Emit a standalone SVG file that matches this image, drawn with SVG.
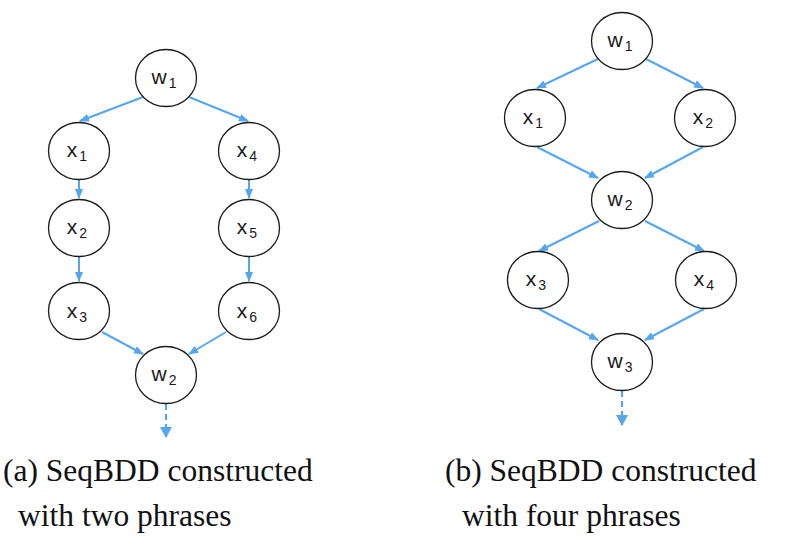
<svg xmlns="http://www.w3.org/2000/svg" width="794" height="536" viewBox="0 0 794 536">
<style>
.node ellipse{fill:#fff;stroke:#1a1a1a;stroke-width:1.3}
.node text{font-family:"Liberation Sans",Arial,sans-serif;font-size:21px;fill:#1a1a1a;text-anchor:middle}
.sub{font-size:14px}
.edge{stroke:#55a6ee;stroke-width:2;fill:none;marker-end:url(#ah)}
.dash{stroke:#55a6ee;stroke-width:2.2;fill:none;stroke-dasharray:6 4;marker-end:url(#ahb)}
.cap{font-family:"Liberation Serif","Times New Roman",serif;font-size:31.5px;fill:#111}
</style>
<defs>
<marker id="ah" markerUnits="userSpaceOnUse" markerWidth="10" markerHeight="10" viewBox="0 0 10 10" refX="9" refY="5" orient="auto">
<path d="M0,1 L10,5 L0,9 Z" fill="#55a6ee"/>
</marker>
<marker id="ahb" markerUnits="userSpaceOnUse" markerWidth="12" markerHeight="13" viewBox="0 0 12 13" refX="10" refY="6.5" orient="auto">
<path d="M0,0.5 L11,6.5 L0,12.5 Z" fill="#55a6ee"/>
</marker>
</defs>
<rect width="794" height="536" fill="#fff"/>
<g id="connectors">
<line class="edge" x1="143" y1="97" x2="80" y2="121"/>
<line class="edge" x1="189" y1="97" x2="248" y2="121"/>
<line class="edge" x1="79" y1="180" x2="79" y2="198"/>
<line class="edge" x1="79" y1="257" x2="79" y2="281"/>
<line class="edge" x1="249" y1="180" x2="249" y2="198"/>
<line class="edge" x1="249" y1="257" x2="249" y2="281"/>
<line class="edge" x1="102" y1="332" x2="143" y2="354"/>
<line class="edge" x1="226" y1="332" x2="189" y2="354"/>
<line class="dash" x1="166" y1="404" x2="166" y2="437"/>
<line class="edge" x1="600" y1="58" x2="537" y2="88"/>
<line class="edge" x1="644" y1="58" x2="703" y2="88"/>
<line class="edge" x1="537" y1="147" x2="598" y2="178"/>
<line class="edge" x1="703" y1="147" x2="645" y2="178"/>
<line class="edge" x1="599" y1="221" x2="539" y2="251"/>
<line class="edge" x1="645" y1="221" x2="704" y2="251"/>
<line class="edge" x1="539" y1="309" x2="598" y2="340"/>
<line class="edge" x1="704" y1="309" x2="645" y2="340"/>
<line class="dash" x1="622" y1="391" x2="622" y2="425"/>
</g>
<g id="a-w1" class="node"><ellipse cx="166" cy="78" rx="30.5" ry="28.5"/><text x="164" y="84">w<tspan class="sub" dx="2" dy="4">1</tspan></text></g>
<g id="a-x1" class="node"><ellipse cx="79" cy="151" rx="30.5" ry="28.5"/><text x="77" y="157">x<tspan class="sub" dx="2" dy="4">1</tspan></text></g>
<g id="a-x2" class="node"><ellipse cx="79" cy="228" rx="30.5" ry="28.5"/><text x="77" y="234">x<tspan class="sub" dx="2" dy="4">2</tspan></text></g>
<g id="a-x3" class="node"><ellipse cx="79" cy="311" rx="30.5" ry="28.5"/><text x="77" y="318">x<tspan class="sub" dx="2" dy="4">3</tspan></text></g>
<g id="a-x4" class="node"><ellipse cx="249" cy="151" rx="30.5" ry="28.5"/><text x="247" y="157">x<tspan class="sub" dx="2" dy="4">4</tspan></text></g>
<g id="a-x5" class="node"><ellipse cx="249" cy="228" rx="30.5" ry="28.5"/><text x="247" y="234">x<tspan class="sub" dx="2" dy="4">5</tspan></text></g>
<g id="a-x6" class="node"><ellipse cx="249" cy="311" rx="30.5" ry="28.5"/><text x="247" y="318">x<tspan class="sub" dx="2" dy="4">6</tspan></text></g>
<g id="a-w2" class="node"><ellipse cx="166" cy="375" rx="30.5" ry="28.5"/><text x="164" y="381">w<tspan class="sub" dx="2" dy="4">2</tspan></text></g>
<g id="b-w1" class="node"><ellipse cx="622" cy="41" rx="30.5" ry="28.5"/><text x="620" y="47">w<tspan class="sub" dx="2" dy="4">1</tspan></text></g>
<g id="b-x1" class="node"><ellipse cx="535" cy="118" rx="30.5" ry="28.5"/><text x="533" y="124">x<tspan class="sub" dx="2" dy="4">1</tspan></text></g>
<g id="b-x2" class="node"><ellipse cx="705" cy="118" rx="30.5" ry="28.5"/><text x="703" y="124">x<tspan class="sub" dx="2" dy="4">2</tspan></text></g>
<g id="b-w2" class="node"><ellipse cx="622" cy="200" rx="30.5" ry="28.5"/><text x="620" y="206">w<tspan class="sub" dx="2" dy="4">2</tspan></text></g>
<g id="b-x3" class="node"><ellipse cx="538" cy="280" rx="30.5" ry="28.5"/><text x="536" y="286">x<tspan class="sub" dx="2" dy="4">3</tspan></text></g>
<g id="b-x4" class="node"><ellipse cx="706" cy="280" rx="30.5" ry="28.5"/><text x="704" y="286">x<tspan class="sub" dx="2" dy="4">4</tspan></text></g>
<g id="b-w3" class="node"><ellipse cx="622" cy="362" rx="30.5" ry="28.5"/><text x="620" y="368">w<tspan class="sub" dx="2" dy="4">3</tspan></text></g>
<g id="captions">
<text class="cap" x="3" y="481">(a) SeqBDD constructed</text>
<text class="cap" x="18" y="526">with two phrases</text>
<text class="cap" x="445" y="481">(b) SeqBDD constructed</text>
<text class="cap" x="462" y="526">with four phrases</text>
</g>
</svg>
